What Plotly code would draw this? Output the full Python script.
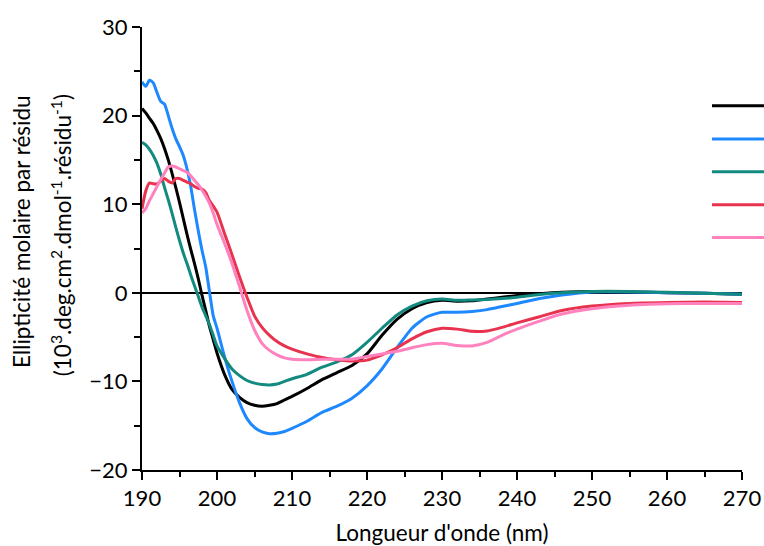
import plotly.graph_objects as go

wl = [190, 190.5, 191, 191.5, 192, 192.5, 193, 193.5, 194, 194.5, 195, 195.5, 196, 196.5,
      197, 197.5, 198, 198.5, 199, 199.5, 200, 201, 202, 203, 204, 205, 206, 207, 208, 209,
      210, 212, 214, 216, 218, 220, 222, 224, 226, 228, 230, 232, 234, 236, 238, 240,
      243, 246, 250, 255, 260, 265, 270]

black = [20.8, 20.3, 19.7, 19.1, 18.3, 17.4, 16.3, 15.0, 13.5, 11.9, 10.2, 8.4, 6.6, 4.9,
         3.3, 1.6, -0.3, -2.0, -3.8, -5.3, -6.8, -9.2, -10.9, -11.8, -12.4, -12.7, -12.8, -12.7, -12.5, -12.1,
         -11.7, -10.8, -9.8, -9.0, -8.2, -6.9, -4.8, -3.0, -1.8, -1.1, -0.85, -0.95, -0.9, -0.7, -0.5, -0.3,
         -0.1, 0.05, 0.15, 0.1, 0.0, -0.05, -0.15]

blue = [23.8, 23.3, 24.0, 23.7, 22.6, 21.6, 21.3, 20.0, 18.6, 17.4, 16.5, 15.5, 14.0, 12.0,
        9.4, 7.0, 4.8, 2.9, 0.1, -2.6, -4.0, -7.2, -10.0, -12.4, -14.2, -15.2, -15.7, -15.9, -15.85, -15.65,
        -15.3, -14.5, -13.5, -12.8, -11.9, -10.5, -8.6, -6.2, -4.0, -2.7, -2.2, -2.2, -2.1, -1.9, -1.55, -1.2,
        -0.65, -0.25, 0.1, 0.1, 0.0, -0.05, -0.15]

teal = [17.0, 16.7, 16.2, 15.5, 14.6, 13.4, 11.9, 10.5, 9.0, 7.4, 5.9, 4.5, 3.3, 2.0,
        0.8, -0.4, -1.6, -2.6, -3.6, -4.8, -6.0, -7.4, -8.6, -9.35, -9.9, -10.2, -10.35, -10.4, -10.3, -10.0,
        -9.7, -9.2, -8.4, -7.8, -7.0, -5.6, -4.0, -2.5, -1.5, -0.9, -0.7, -0.85, -0.8, -0.75, -0.65, -0.5,
        -0.2, 0.0, 0.15, 0.15, 0.05, -0.05, -0.15]

red = [9.5, 11.5, 12.4, 12.3, 12.3, 12.6, 12.9, 12.6, 12.4, 12.9, 12.9, 12.7, 12.5, 12.3,
       12.0, 11.8, 11.7, 11.3, 10.4, 9.8, 9.1, 6.7, 4.3, 1.8, -0.5, -2.6, -3.9, -4.8, -5.5, -6.0,
       -6.35, -6.9, -7.3, -7.55, -7.7, -7.6, -7.0, -6.2, -5.2, -4.4, -4.0, -4.1, -4.35, -4.3, -3.9, -3.4,
       -2.7, -2.0, -1.5, -1.2, -1.1, -1.05, -1.1]

pink = [9.0, 9.5, 10.4, 11.2, 12.0, 12.8, 13.5, 14.2, 14.3, 14.2, 14.0, 13.8, 13.6, 13.2,
        12.7, 12.2, 11.6, 10.9, 10.1, 9.0, 7.7, 5.6, 3.3, 0.7, -2.0, -4.2, -5.7, -6.5, -7.0, -7.35,
        -7.5, -7.55, -7.5, -7.5, -7.5, -7.2, -6.9, -6.6, -6.2, -5.85, -5.7, -5.95, -6.0, -5.6, -4.8, -4.1,
        -3.2, -2.4, -1.8, -1.4, -1.25, -1.2, -1.2]

x_ticks = [190, 200, 210, 220, 230, 240, 250, 260, 270]
y_ticks = [-20, -10, 0, 10, 20, 30]

series = [
    ("black", black, "#000000"),
    ("blue", blue, "#1E88FF"),
    ("teal", teal, "#138A80"),
    ("red", red, "#E8334F"),
    ("pink", pink, "#FF82BE"),
]

fig = go.Figure()
for name, vals, col in series:
    fig.add_trace(go.Scatter(x=wl, y=vals, mode="lines", name=name,
                             line=dict(color=col, width=3, shape="spline", smoothing=0.6),
                             showlegend=False))

# legend swatches (no text), at the right edge
leg_y = [0.822, 0.747, 0.673, 0.599, 0.525]
for (name, vals, col), yy in zip(series, leg_y):
    fig.add_shape(type="line", xref="paper", yref="paper", x0=0.95, x1=1.04, y0=yy, y1=yy,
                  line=dict(color=col, width=3))

font_family = "Lato, 'Open Sans', sans-serif"

fig.update_layout(
    width=764, height=546,
    margin=dict(l=142, r=22, t=27, b=76, autoexpand=False),
    paper_bgcolor="white", plot_bgcolor="white",
    font=dict(family=font_family, color="black"),
    xaxis=dict(range=[190, 270], tickvals=x_ticks, automargin=False,
               showline=True, linecolor="black", linewidth=2,
               ticks="outside", ticklen=8, tickwidth=2, tickcolor="black",
               minor=dict(dtick=5, tick0=190, ticks="outside", ticklen=5, tickwidth=2, tickcolor="black"),
               showgrid=False, zeroline=False,
               tickfont=dict(size=22, family=font_family),
               title=dict(text="Longueur d'onde (nm)", font=dict(size=22.5, family=font_family), standoff=20)),
    yaxis=dict(range=[-20, 30], tickvals=y_ticks, automargin=False,
               showline=True, linecolor="black", linewidth=2,
               ticks="outside", ticklen=8, tickwidth=2, tickcolor="black",
               minor=dict(dtick=5, tick0=0, ticks="outside", ticklen=6, tickwidth=2, tickcolor="black"),
               showgrid=False, zeroline=True, zerolinecolor="black", zerolinewidth=1.5,
               tickfont=dict(size=22, family=font_family)),
)

fig.add_annotation(text="Ellipticité molaire par résidu", xref="paper", yref="paper",
                   x=(21 - 142) / 600, y=0.537, xanchor="center", yanchor="middle",
                   textangle=-90, showarrow=False, font=dict(size=22.5, family=font_family))
fig.add_annotation(text="(10<sup>3</sup>.deg.cm<sup>2</sup>.dmol<sup>-1</sup>.résidu<sup>-1</sup>)",
                   xref="paper", yref="paper",
                   x=(61 - 142) / 600, y=0.53, xanchor="center", yanchor="middle",
                   textangle=-90, showarrow=False, font=dict(size=22.5, family=font_family))

fig.write_html("out.html")
